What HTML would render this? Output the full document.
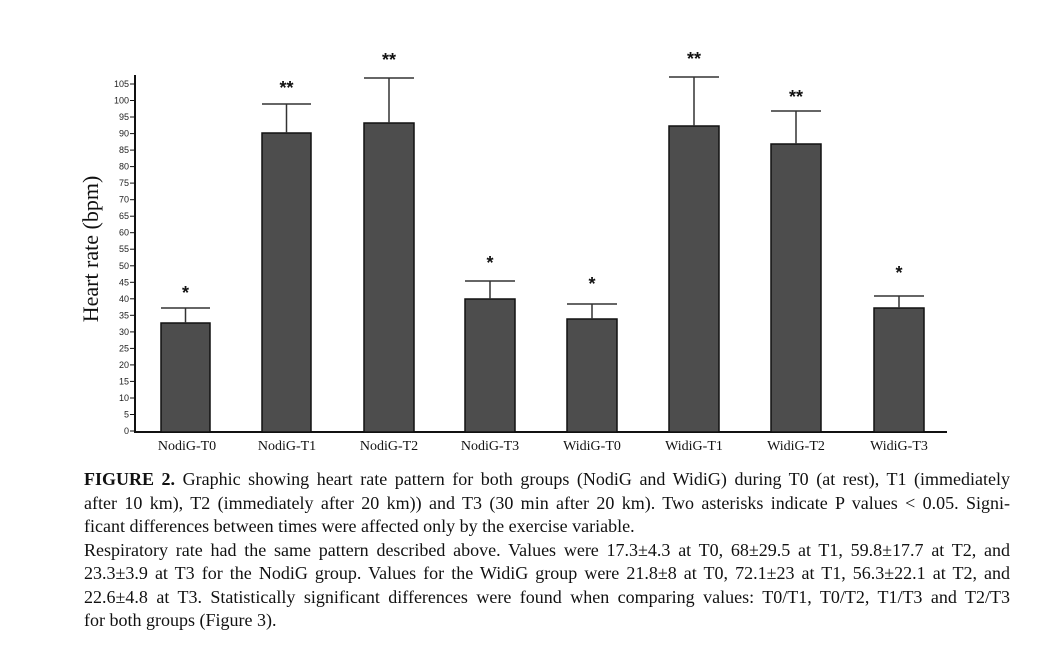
<!DOCTYPE html>
<html><head><meta charset="utf-8"><style>
html,body{margin:0;padding:0;background:#fff;}
body{width:1053px;height:669px;position:relative;overflow:hidden;}
.cap{position:absolute;left:84px;width:926px;font-family:"Liberation Serif",serif;font-size:18px;color:#111;}
.ln{height:23.5px;line-height:23.5px;white-space:nowrap;}
.j{text-align:justify;text-align-last:justify;white-space:normal;}
</style></head><body>
<svg width="1053" height="669" style="position:absolute;left:0;top:0">
<g stroke="#111" stroke-width="1">
<line x1="130" y1="431" x2="135" y2="431"/><line x1="130" y1="414.5" x2="135" y2="414.5"/><line x1="130" y1="398" x2="135" y2="398"/><line x1="130" y1="381.4" x2="135" y2="381.4"/><line x1="130" y1="364.9" x2="135" y2="364.9"/><line x1="130" y1="348.4" x2="135" y2="348.4"/><line x1="130" y1="331.9" x2="135" y2="331.9"/><line x1="130" y1="315.3" x2="135" y2="315.3"/><line x1="130" y1="298.8" x2="135" y2="298.8"/><line x1="130" y1="282.3" x2="135" y2="282.3"/><line x1="130" y1="265.8" x2="135" y2="265.8"/><line x1="130" y1="249.2" x2="135" y2="249.2"/><line x1="130" y1="232.7" x2="135" y2="232.7"/><line x1="130" y1="216.2" x2="135" y2="216.2"/><line x1="130" y1="199.7" x2="135" y2="199.7"/><line x1="130" y1="183.1" x2="135" y2="183.1"/><line x1="130" y1="166.6" x2="135" y2="166.6"/><line x1="130" y1="150.1" x2="135" y2="150.1"/><line x1="130" y1="133.6" x2="135" y2="133.6"/><line x1="130" y1="117" x2="135" y2="117"/><line x1="130" y1="100.5" x2="135" y2="100.5"/><line x1="130" y1="84" x2="135" y2="84"/>
</g>
<g font-family="Liberation Sans, sans-serif" font-size="9" fill="#222" text-anchor="end">
<text x="129" y="434">0</text><text x="129" y="417.5">5</text><text x="129" y="401">10</text><text x="129" y="384.4">15</text><text x="129" y="367.9">20</text><text x="129" y="351.4">25</text><text x="129" y="334.9">30</text><text x="129" y="318.3">35</text><text x="129" y="301.8">40</text><text x="129" y="285.3">45</text><text x="129" y="268.8">50</text><text x="129" y="252.2">55</text><text x="129" y="235.7">60</text><text x="129" y="219.2">65</text><text x="129" y="202.7">70</text><text x="129" y="186.1">75</text><text x="129" y="169.6">80</text><text x="129" y="153.1">85</text><text x="129" y="136.6">90</text><text x="129" y="120">95</text><text x="129" y="103.5">100</text><text x="129" y="87">105</text>
</g>
<line x1="135" y1="75" x2="135" y2="433" stroke="#111" stroke-width="2"/>
<line x1="134" y1="432" x2="947" y2="432" stroke="#111" stroke-width="2"/>
<text transform="translate(98,249) rotate(-90)" text-anchor="middle" font-family="Liberation Serif, serif" font-size="22" fill="#111">Heart rate (bpm)</text>
<g fill="#4d4d4d" stroke="#111" stroke-width="1.5">
<rect x="161" y="323" width="49" height="109"/>
<rect x="262" y="133" width="49" height="299"/>
<rect x="364" y="123" width="50" height="309"/>
<rect x="465" y="299" width="50" height="133"/>
<rect x="567" y="319" width="50" height="113"/>
<rect x="669" y="126" width="50" height="306"/>
<rect x="771" y="144" width="50" height="288"/>
<rect x="874" y="308" width="50" height="124"/>
</g>
<g stroke="#333" stroke-width="1.5">
<line x1="185.5" y1="308" x2="185.5" y2="323"/><line x1="161" y1="308" x2="210" y2="308"/>
<line x1="286.5" y1="104" x2="286.5" y2="133"/><line x1="262" y1="104" x2="311" y2="104"/>
<line x1="389" y1="78" x2="389" y2="123"/><line x1="364" y1="78" x2="414" y2="78"/>
<line x1="490" y1="281" x2="490" y2="299"/><line x1="465" y1="281" x2="515" y2="281"/>
<line x1="592" y1="304" x2="592" y2="319"/><line x1="567" y1="304" x2="617" y2="304"/>
<line x1="694" y1="77" x2="694" y2="126"/><line x1="669" y1="77" x2="719" y2="77"/>
<line x1="796" y1="111" x2="796" y2="144"/><line x1="771" y1="111" x2="821" y2="111"/>
<line x1="899" y1="296" x2="899" y2="308"/><line x1="874" y1="296" x2="924" y2="296"/>
</g>
<g font-family="Liberation Sans, sans-serif" font-size="18" font-weight="bold" fill="#111" text-anchor="middle">
<text x="185.5" y="299">*</text><text x="286.5" y="94">**</text><text x="389" y="66">**</text><text x="490" y="269">*</text><text x="592" y="290">*</text><text x="694" y="65">**</text><text x="796" y="103">**</text><text x="899" y="279">*</text>
</g>
<g font-family="Liberation Serif, serif" font-size="14" fill="#111" text-anchor="middle">
<text x="187" y="450">NodiG-T0</text><text x="287" y="450">NodiG-T1</text><text x="389" y="450">NodiG-T2</text><text x="490" y="450">NodiG-T3</text><text x="592" y="450">WidiG-T0</text><text x="694" y="450">WidiG-T1</text><text x="796" y="450">WidiG-T2</text><text x="899" y="450">WidiG-T3</text>
</g>
</svg>
<div class="cap" style="top:468px">
<div class="ln j"><b>FIGURE 2.</b> Graphic showing heart rate pattern for both groups (NodiG and WidiG) during T0 (at rest), T1 (immediately</div>
<div class="ln j">after 10 km), T2 (immediately after 20 km)) and T3 (30 min after 20 km). Two asterisks indicate P values &lt; 0.05. Signi-</div>
<div class="ln">ficant differences between times were affected only by the exercise variable.</div>
<div class="ln j">Respiratory rate had the same pattern described above. Values were 17.3±4.3 at T0, 68±29.5 at T1, 59.8±17.7 at T2, and</div>
<div class="ln j">23.3±3.9 at T3 for the NodiG group. Values for the WidiG group were 21.8±8 at T0, 72.1±23 at T1, 56.3±22.1 at T2, and</div>
<div class="ln j">22.6±4.8 at T3. Statistically significant differences were found when comparing values: T0/T1, T0/T2, T1/T3 and T2/T3</div>
<div class="ln">for both groups (Figure 3).</div>
</div>
</body></html>
